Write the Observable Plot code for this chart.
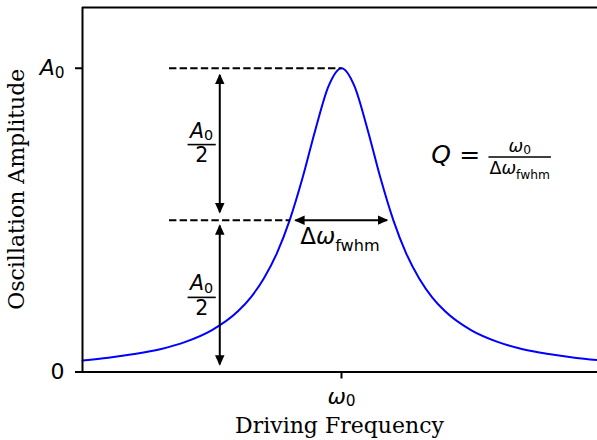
<!DOCTYPE html>
<html>
<head>
<meta charset="utf-8">
<script src="https://cdn.jsdelivr.net/npm/d3@7"></script>
<script src="https://cdn.jsdelivr.net/npm/@observablehq/plot@0.6"></script>
<style>
  html, body { margin: 0; padding: 0; background: #fff; }
  svg { display: block; }
</style>
</head>
<body>
<script>
// ---- data (x in arbitrary frequency units, ω0 = 5) ----
const freq = [0, 0.5, 1, 1.5, 2, 2.5, 3, 3.25, 3.5, 3.75, 4, 4.25, 4.5, 4.75, 5,
              5.25, 5.5, 5.75, 6, 6.25, 6.5, 6.75, 7, 7.5, 8, 8.5, 9, 9.5, 10];
const amp  = [0.038, 0.047, 0.059, 0.075, 0.100, 0.138, 0.200, 0.246, 0.308, 0.390, 0.500, 0.640, 0.800, 0.941, 1.000,
              0.941, 0.800, 0.640, 0.500, 0.390, 0.308, 0.246, 0.200, 0.138, 0.100, 0.075, 0.059, 0.047, 0.038];

const yTicks = [0, 1];
const yTickLabels = ["0", "A_{0}"];
const xTicks = [5];
const xTickLabels = ["ω_{0}"];

// dashed guide lines
const guideX1 = [1.67, 1.67];
const guideX2 = [5.0, 4.0];
const guideY  = [1.0, 0.5];

// double-headed arrows
const arrowX1 = [2.65, 2.65, 4.11];
const arrowY1 = [0.978, 0.482, 0.5];
const arrowX2 = [2.65, 2.65, 5.88];
const arrowY2 = [0.526, 0.025, 0.5];

// A0/2 fraction labels (centre x, bar y)
const halfLabelX = [2.31, 2.31];
const halfLabelY = [0.747, 0.244];

// Δω_fwhm label (centre x, baseline y)
const fwhmLabelX = [4.98];
const fwhmLabelY = [0.42];

// Q = ω0/Δω_fwhm  (Q left x, fraction centre x, bar y)
const qLabelX = [6.93];
const qFracX = [8.45];
const qLabelY = [0.706];

const xLabel = "Driving Frequency";
const yLabel = "Oscillation Amplitude";

const curve = freq.map((f, i) => ({f, a: amp[i]}));
const guides = guideX1.map((x1, i) => ({x1, x2: guideX2[i], y: guideY[i]}));
const arrows = arrowX1.map((x1, i) => ({x1, y1: arrowY1[i], x2: arrowX2[i], y2: arrowY2[i]}));

const TICK_FS = 22;

const chart = Plot.plot({
  width: 597,
  height: 440,
  marginLeft: 82,
  marginRight: 0,
  marginTop: 7,
  marginBottom: 68.5,
  style: {fontFamily: "'DejaVu Sans', sans-serif", fontSize: TICK_FS + "px", background: "white", color: "black"},
  x: {domain: [0, 10], range: [82, 600]},
  y: {domain: [0, 1.2]},
  marks: [
    Plot.line(curve, {x: "f", y: "a", stroke: "#0000ff", strokeWidth: 2, curve: "monotone-x"}),
    Plot.link(guides, {x1: "x1", x2: "x2", y1: "y", y2: "y", stroke: "black", strokeWidth: 2, strokeDasharray: "7.4,3.2"}),
    Plot.link(arrows, {x1: "x1", y1: "y1", x2: "x2", y2: "y2", stroke: "black", strokeWidth: 2}),
    Plot.ruleX([0], {stroke: "black", strokeWidth: 2}),
    Plot.ruleY([0, 1.2], {stroke: "black", strokeWidth: 2}),
    Plot.axisY({ticks: yTicks, tickSize: 7, tickPadding: 11, strokeWidth: 2, fontSize: TICK_FS,
                tickFormat: (d) => yTickLabels[yTicks.indexOf(d)], label: null}),
    Plot.axisX({ticks: xTicks, tickSize: 7, tickPadding: 9, strokeWidth: 2, fontSize: TICK_FS,
                tickFormat: (d) => xTickLabels[xTicks.indexOf(d)], label: null})
  ]
});
document.body.appendChild(chart);

const svg = d3.select(chart);
const sx = chart.scale("x");
const sy = chart.scale("y");

// ---- mini math renderer (italic variables, upright subscripts) ----
function mathSpans(text, str, size) {
  const re = /_\{([^}]*)\}|(.)/g;
  let m, shifted = 0;
  while ((m = re.exec(str))) {
    const ts = text.append("tspan");
    if (m[1] !== undefined) {
      const sub = m[1];
      const drop = /[bdfhklt]/.test(sub) ? 0.3 * size : 0.12 * size;
      ts.attr("font-size", 0.7 * size).attr("font-style", "normal").attr("dy", drop - shifted).text(sub);
      shifted = drop;
    } else {
      const ch = m[2];
      if (shifted) { ts.attr("dy", -shifted); shifted = 0; }
      ts.attr("font-style", /[A-Za-zα-ω]/.test(ch) ? "italic" : "normal");
      ts.text(ch);
    }
  }
}

// replace axis tick label text with math
svg.selectAll('g[aria-label="y-axis tick label"] text, g[aria-label="x-axis tick label"] text').each(function () {
  const t = d3.select(this);
  const s = t.text();
  t.text(null);
  mathSpans(t, s, TICK_FS);
});

// double arrowheads (filled triangles)
const defs = svg.append("defs");
defs.append("marker")
  .attr("id", "tri-head")
  .attr("viewBox", "0 0 10.5 9.5")
  .attr("refX", 9.2).attr("refY", 4.75)
  .attr("markerWidth", 10.5).attr("markerHeight", 9.5)
  .attr("markerUnits", "userSpaceOnUse")
  .attr("orient", "auto-start-reverse")
  .append("path").attr("d", "M0,0L10.5,4.75L0,9.5Z").attr("fill", "black");
svg.selectAll('g[aria-label="link"]')
  .filter(function () { return !this.getAttribute("stroke-dasharray"); })
  .selectAll("path")
  .attr("marker-start", "url(#tri-head)")
  .attr("marker-end", "url(#tri-head)");

const ann = svg.append("g").attr("fill", "black").attr("font-family", "'DejaVu Sans', sans-serif");

function fraction(g, cx, cy, num, den, size, numGap, denGap, pad, lw) {
  const grp = g.append("g");
  const n = grp.append("text").attr("x", 0).attr("y", -numGap).attr("text-anchor", "middle").attr("font-size", size);
  mathSpans(n, num, size);
  const d = grp.append("text").attr("x", 0).attr("y", denGap).attr("text-anchor", "middle").attr("font-size", size);
  mathSpans(d, den, size);
  const w = Math.max(n.node().getBBox().width, d.node().getBBox().width) + 2 * pad;
  grp.append("line").attr("x1", -w / 2).attr("x2", w / 2).attr("y1", 0).attr("y2", 0)
    .attr("stroke", "black").attr("stroke-width", lw);
  grp.attr("transform", `translate(${cx},${cy})`);
  return w;
}

// A0/2 labels
halfLabelX.forEach((x, i) => {
  fraction(ann, sx.apply(x), sy.apply(halfLabelY[i]), "A_{0}", "2", 20.5, 7, 17.5, 1.5, 1.6);
});

// Δω_fwhm label
fwhmLabelX.forEach((x, i) => {
  const t = ann.append("text").attr("x", sx.apply(x)).attr("y", sy.apply(fwhmLabelY[i]))
    .attr("text-anchor", "middle").attr("font-size", 23);
  mathSpans(t, "Δω_{fwhm}", 23);
});

// Q = ω0 / Δω_fwhm
qLabelX.forEach((x, i) => {
  const y0 = sy.apply(qLabelY[i]);
  const fx = sx.apply(qFracX[i]);
  const q = ann.append("text").attr("x", sx.apply(x)).attr("y", y0 + 6).attr("font-size", 25);
  mathSpans(q, "Q", 25);
  const w = fraction(ann, fx, y0, "ω_{0}", "Δω_{fwhm}", 17.5, 5, 16.5, 1, 1.4);
  const qb = q.node().getBBox();
  const qEnd = qb.x + qb.width;
  const fracLeft = fx - w / 2;
  ann.append("text").attr("x", (qEnd + fracLeft) / 2).attr("y", y0 + 6)
    .attr("text-anchor", "middle").attr("font-size", 25).text("=");
});

// axis titles (serif)
const frameLeft = 82, frameRight = 597;
const [yb, yt] = sy.range;
svg.append("text")
  .attr("x", (frameLeft + frameRight) / 2).attr("y", 433)
  .attr("text-anchor", "middle")
  .attr("font-family", "'DejaVu Serif', serif").attr("font-size", 22)
  .attr("fill", "black")
  .text(xLabel);
svg.append("text")
  .attr("transform", `translate(24,${(yb + yt) / 2}) rotate(-90)`)
  .attr("text-anchor", "middle")
  .attr("font-family", "'DejaVu Serif', serif").attr("font-size", 22)
  .attr("fill", "black")
  .text(yLabel);
</script>
</body>
</html>
